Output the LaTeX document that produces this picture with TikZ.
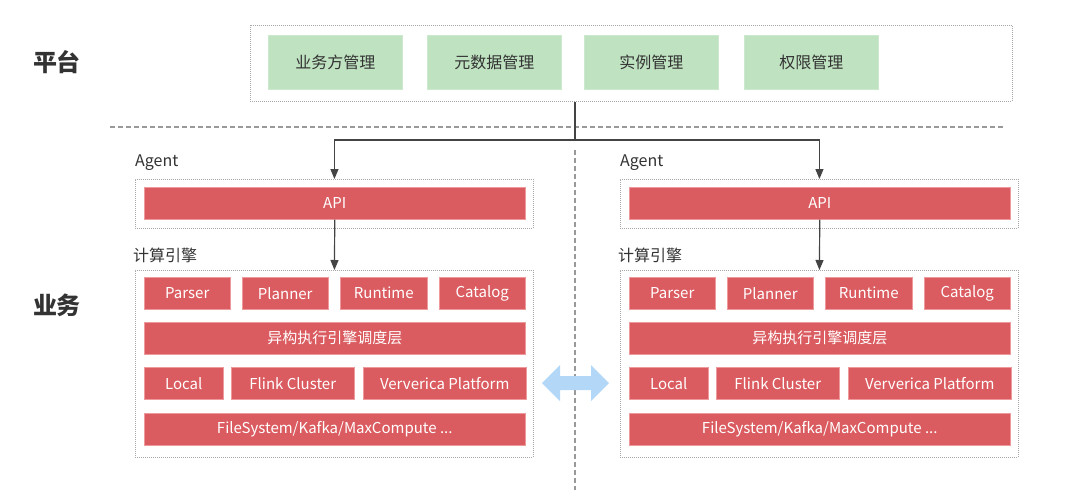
\documentclass[tikz,border=0pt]{standalone}
\usepackage{fontspec}
\setmainfont{Noto Sans CJK SC}
\usetikzlibrary{arrows.meta}
\definecolor{tgred}{HTML}{DB5C60}
\definecolor{tgredline}{HTML}{EE9A9D}
\definecolor{tggreen}{HTML}{BFE2C0}
\definecolor{tgtext}{HTML}{333333}
\definecolor{tgline}{HTML}{444444}
\definecolor{tgdot}{HTML}{A8A8A8}
\definecolor{tgdash}{HTML}{999999}
\definecolor{tgblue}{HTML}{B3D7F7}
% one Agent + engine column, #1 = name prefix, #2 = x shift
\newcommand{\tgcolumn}[2]{%
  \begin{scope}[xshift=#2pt]
    \node[dotbox,minimum width=398pt,minimum height=49pt] (#1agent) at (135,179) {};
    \node[lbl] (#1agentlbl) at (135,163) {Agent};
    \node[rbox,minimum width=381pt] (#1api) at (144,187) {API};
    \node[dotbox,minimum width=398pt,minimum height=187pt] (#1eng) at (135,270) {};
    \node[lbl] (#1englbl) at (133,255) {计算引擎};
    \foreach \n/\x/\w/\t in {parser/144/86/Parser,planner/242/86/Planner,runtime/340/87/Runtime,catalog/439/86/Catalog}{%
      \node[rbox,minimum width=\w pt] (#1\n) at (\x,277) {\t};}
    \node[rbox,minimum width=381pt] (#1sched) at (144,322) {异构执行引擎调度层};
    \foreach \n/\x/\w/\t in {local/144/79/Local,flink/231/123/Flink Cluster,vvp/363/163/Ververica Platform}{%
      \node[rbox,minimum width=\w pt] (#1\n) at (\x,367) {\t};}
    \node[rbox,minimum width=381pt] (#1store) at (144,413) {FileSystem/Kafka/MaxCompute ...};
  \end{scope}
  \draw[conn] (#1api.south) -- (#1eng.north);}

\begin{document}
\begin{tikzpicture}[x=1pt,y=-1pt,
  dotbox/.style={draw=tgdot,line width=0.9pt,dash pattern=on 1pt off 1pt,anchor=north west,inner sep=0pt},
  rbox/.style={fill=tgred,draw=tgredline,line width=0.5pt,anchor=north west,inner sep=0pt,minimum height=32pt,
    text=white,font=\fontsize{15pt}{18pt}\selectfont},
  gbox/.style={fill=tggreen,draw=tggreen!80!white,line width=0.5pt,anchor=north west,inner sep=0pt,
    minimum width=134pt,minimum height=54pt,text=tgtext,font=\fontsize{16pt}{19pt}\selectfont},
  lbl/.style={anchor=west,inner sep=0pt,text=tgtext,font=\fontsize{16pt}{19pt}\selectfont},
  side/.style={inner sep=0pt,text=tgtext,font=\fontsize{24pt}{28pt}\selectfont\bfseries},
  conn/.style={draw=tgline,line width=1.2pt,-{Triangle[length=10pt,width=8pt]}},
  divline/.style={draw=tgdash,line width=1.2pt,dash pattern=on 5pt off 3pt}]
  \useasboundingbox (0,0) rectangle (1080,496);
  % side labels and dividers
  \node[side] (ptlbl) at (57,62) {平台};
  \node[side] (bizlbl) at (57,305) {业务};
  \draw[divline] (110,127) -- (1005,127);
  \draw[divline] (575,150) -- (575,490);
  % platform
  \node[dotbox,minimum width=762pt,minimum height=76pt] (plat) at (250,25) {};
  \foreach \n/\x/\t in {bizmgr/268/业务方管理,metamgr/427/元数据管理,instmgr/584/实例管理,authmgr/744/权限管理}{%
    \node[gbox] (\n) at (\x,35) {\t};}
  % two business columns
  \tgcolumn{L}{0}
  \tgcolumn{R}{485}
  \coordinate (split) at (575,140);
  \draw[tgline,line width=1.2pt] (plat.south -| split) -- (split);
  \draw[conn] (split) -| (Lagent.north);
  \draw[conn] (split) -| (Ragent.north);
  % sync arrow
  \fill[tgblue] (542,383) -- (560,365) -- (560,376) -- (591,376) -- (591,365) -- (609,383)
    -- (591,401) -- (591,390) -- (560,390) -- (560,401) -- cycle;
\end{tikzpicture}
\end{document}
